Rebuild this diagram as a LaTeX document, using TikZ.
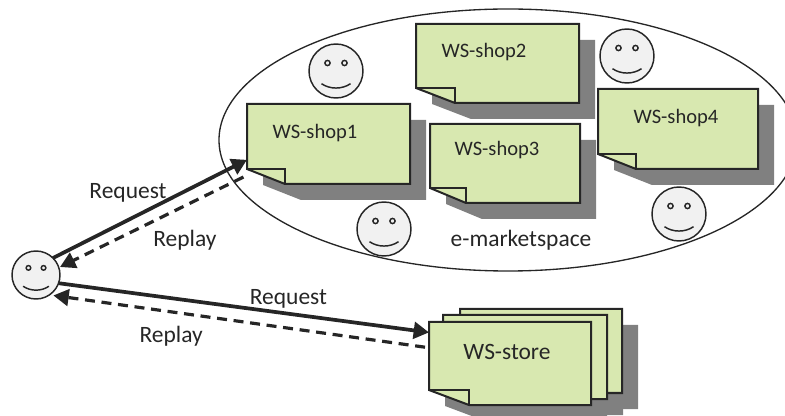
\documentclass[tikz,border=0pt]{standalone}
\usepackage{fontspec}
\setmainfont{Carlito}
\usetikzlibrary{shapes.geometric}
\usetikzlibrary{arrows.meta}
\pgfdeclarelayer{shade}
\pgfsetlayers{shade,main}
\definecolor{sheetgreen}{RGB}{216,232,176}
\definecolor{inkgrey}{RGB}{38,38,38}
\definecolor{shadegrey}{RGB}{128,128,128}
\definecolor{facegrey}{RGB}{241,241,241}

% name, centre, width, height, fold width
\newcommand{\notesheet}[5]{
	\node[sheet, minimum width=#3*0.75pt, minimum height=#4*0.75pt] (#1) at #2 {};
	\begin{pgfonlayer}{shade}
		\fill[shadegrey] ([shift={(16,16)}]#1.north west) -- ([shift={(16,16)}]#1.north east)
			-- ([shift={(16,16)}]#1.south east) -- ([shift={(16+#5,16)}]#1.south west)
			-- ([shift={(16,1)}]#1.south west) -- cycle;
	\end{pgfonlayer}
	\draw[sheetline, fill=sheetgreen] (#1.north west) -- (#1.north east) -- (#1.south east)
		-- ([xshift=#5*0.75pt]#1.south west) -- ([yshift=15*0.75pt]#1.south west) -- cycle;
	\draw[sheetline] ([yshift=15*0.75pt]#1.south west) -- ([shift={(#5,-15)}]#1.south west)
		-- ([xshift=#5*0.75pt]#1.south west);
}
% name, centre, radius
\newcommand{\facenode}[3]{
	\begin{scope}[shift={#2}, scale=#3/27]
		\node[face, minimum size=2*#3*0.75pt] (#1) at (0,0) {};
		\draw[faceline, fill=facegrey] (-8.5,-8) circle (2.6);
		\draw[faceline, fill=facegrey] (8.5,-8) circle (2.6);
		\draw[faceline] (-14.5,12.7) .. controls (-6,18.5) and (6,18.5) .. (14.5,12.7);
	\end{scope}
}

\begin{document}
\begin{tikzpicture}
		[x=0.75pt, y=-0.75pt,
		sheet/.style = {rectangle, inner sep=0pt, outer sep=0pt},
		sheetline/.style = {draw=inkgrey, line width=1.5pt, line join=miter},
		face/.style = {draw=inkgrey, circle, fill=facegrey, line width=1.1pt, inner sep=0pt, outer sep=0pt},
		faceline/.style = {draw=inkgrey, line width=1.1pt},
		word/.style = {text=inkgrey, inner sep=0pt, font=\fontsize{17.6pt}{20pt}\selectfont},
		shopword/.style = {text=inkgrey, inner sep=0pt, font=\fontsize{15.4pt}{18pt}\selectfont},
		request/.style = {draw=inkgrey, line width=2.8pt, -{Triangle[length=11.5pt,width=12.5pt]}},
		replay/.style = {request, line width=2.4pt, dash pattern=on 7.5pt off 5pt}]
	\useasboundingbox (0,0) rectangle (785,416);
	\clip (0,0) rectangle (785,416);

	\node[draw=inkgrey, ellipse, line width=1pt, inner sep=0pt, outer sep=0pt,
		minimum width=578*0.75pt, minimum height=262*0.75pt] (market) at (508,140) {};

	\notesheet{shop1}{(328.5,144)}{163}{80}{38}
	\notesheet{shop2}{(497.5,63.5)}{163}{79}{39}
	\notesheet{shop3}{(505,163.5)}{150}{79}{36}
	\notesheet{shop4}{(678,129)}{160}{80}{38}
	\notesheet{store3}{(541,351)}{162}{84}{40}
	\notesheet{store2}{(525,357)}{164}{84}{40}
	\notesheet{store1}{(510,363.5)}{162}{83}{40}

	\node[shopword] (shop1text) at (315,133.5) {WS-shop1};
	\node[shopword] (shop2text) at (484,52.5) {WS-shop2};
	\node[shopword] (shop3text) at (497,150.5) {WS-shop3};
	\node[shopword] (shop4text) at (676,118.5) {WS-shop4};
	\node[word] (storetext) at (507,351.5) {WS-store};
	\node[word] (markettext) at (521,240.5) {e-marketspace};

	\facenode{face1}{(336,71)}{27}
	\facenode{face2}{(627,56)}{27}
	\facenode{face3}{(384,229)}{27}
	\facenode{face4}{(679,214)}{27}
	\facenode{client}{(36,275)}{24}

	\draw[request] (client.45) -- node[word, xshift=-16.5pt, yshift=12pt] {Request} (shop1.191);
	\draw[replay, shorten <=3pt, shorten >=1pt] (shop1.201) -- node[word, xshift=24pt, yshift=-14pt] {Replay} (client.18);
	\draw[request] (client.-20) -- node[word, xshift=33.5pt, yshift=7pt] {Request} (store1.159);
	\draw[replay, shorten <=3pt, shorten >=3pt] (store1.169) -- node[word, xshift=-51pt, yshift=-11.5pt] {Replay} (client.-56);
\end{tikzpicture}
\end{document}
